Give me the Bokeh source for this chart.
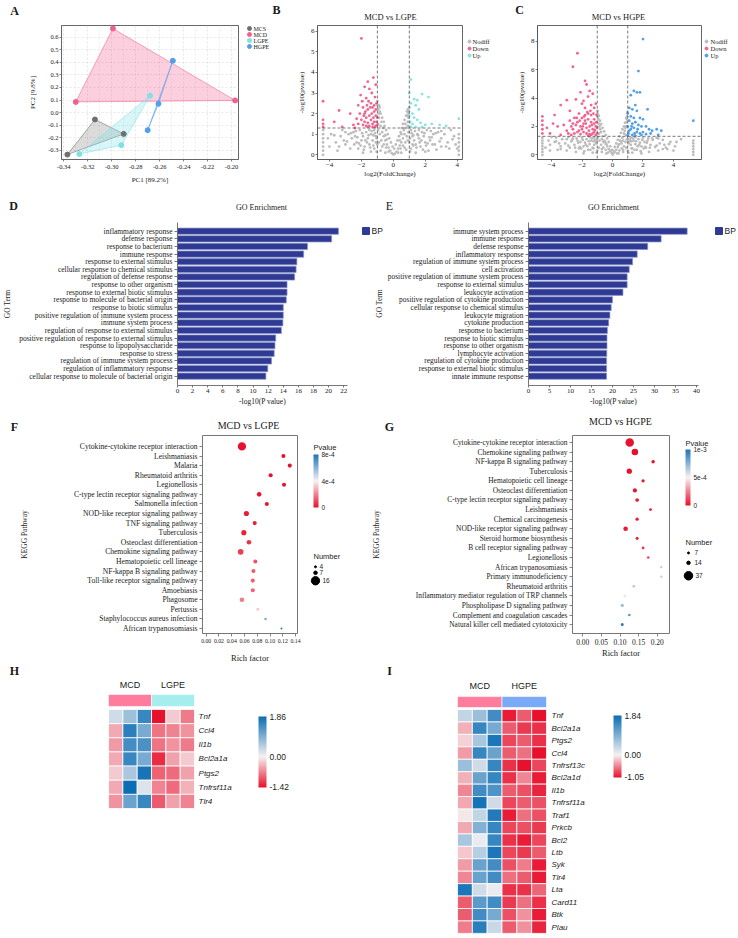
import numpy as np
from bokeh.plotting import figure
from bokeh.models import (ColumnDataSource, ColorBar, LinearColorMapper,
                          FixedTicker, Label, Span, PrintfTickFormatter, CustomJSTickFormatter)
from bokeh.layouts import column, row
from bokeh.embed import file_html
from bokeh.resources import INLINE
from bokeh.core.properties import value

SERIF = "Liberation Serif"
SANS = "Liberation Sans"
TXT = "#1a1a1a"

# ======================= DATA =======================
# --- A: PCA
pca_groups = ["MCS", "MCD", "LGPE", "HGPE"]
mcs_pc1 = [-0.337, -0.314, -0.290]
mcs_pc2 = [-0.335, -0.055, -0.170]
mcd_pc1 = [-0.330, -0.299, -0.197]
mcd_pc2 = [0.085, 0.670, 0.097]
lgpe_pc1 = [-0.327, -0.292, -0.268]
lgpe_pc2 = [-0.330, -0.260, 0.135]
hgpe_pc1 = [-0.270, -0.261, -0.249]
hgpe_pc2 = [-0.140, 0.070, 0.413]
A_xticks = [-0.34, -0.32, -0.30, -0.28, -0.26, -0.24, -0.22, -0.20]
A_xminor = [-0.33, -0.31, -0.29, -0.27, -0.25, -0.23, -0.21]
A_yticks = [-0.3, -0.2, -0.1, 0.0, 0.1, 0.2, 0.3, 0.4, 0.5, 0.6, 0.7]

# --- B: volcano MCD vs LGPE  (log2FC, -log10 p)
volcano_classes = ["Nodiff", "Down", "Up"]
b_nodiff = [(0,0.02),(0.1,0.05),(-0.1,0.08),(0.2,0.15),(-0.2,0.2),(0.3,0.3),(-0.3,0.35),(0.4,0.45),(-0.4,0.5),
            (0.5,0.6),(-0.5,0.7),(0.6,0.8),(-0.6,0.9),(0.7,1.0),(-0.7,1.1),(0.8,1.3),(-0.8,1.4),(0.9,1.6),
            (-0.9,1.8),(0.95,2.0),(-0.95,2.2),(1.0,2.3),(-1.0,2.6),(0.85,1.9),(-0.85,2.1),(0.75,1.5),(-0.75,1.6),
            (0.65,1.2),(-0.65,1.3),(-0.9,2.0),(-0.95,1.5),(0.9,1.4),(0.95,1.8),(-0.98,2.4),(0.98,2.1),
            (-0.5,0.1),(-0.8,0.2),(-1.2,0.3),(-1.5,0.5),(-1.8,0.4),(-2.0,0.7),(-2.3,0.6),(-2.6,0.8),(-3.0,0.5),
            (-3.3,0.9),(-3.6,0.6),(-1.1,0.9),(-1.4,1.0),(-1.7,1.1),(-2.1,1.2),(-2.5,1.1),(-1.3,0.7),(-1.6,0.8),
            (-1.9,0.9),(-2.8,1.0),(-3.2,1.2),(-3.9,1.0),(-1.0,0.5),(-1.2,1.2),(-0.9,0.6),(-2.2,0.3),(-2.7,0.3),
            (-3.5,0.2),(-1.4,0.15),(-1.9,0.1),(-1.1,0.6),(-1.5,1.2),(-2.4,0.9),(-3.1,0.7),(-4.0,0.4),
            (0.5,0.1),(0.8,0.25),(1.1,0.3),(1.4,0.5),(1.7,0.4),(2.0,0.6),(2.3,0.7),(2.6,0.5),(3.0,0.8),
            (3.4,0.6),(3.8,0.9),(1.2,0.9),(1.5,1.0),(1.8,1.1),(2.1,1.2),(2.5,1.0),(1.3,0.7),(1.6,0.8),
            (1.9,0.9),(2.8,1.1),(3.2,1.0),(3.6,1.2),(1.0,0.6),(1.1,1.2),(0.9,0.7),(2.2,0.2),(2.7,0.25),
            (3.5,0.3),(1.4,0.1),(2.0,0.15),(1.2,0.5),(1.6,1.2),(2.4,0.85),(3.0,0.4),(3.9,0.5),
            (-4.4,0.0),(-4.4,0.2),(-4.4,0.4),(-4.4,0.6),(-4.4,0.8),(-4.4,1.0),(-4.4,1.2),
            (4.1,0.0),(4.1,0.2),(4.1,0.4),(4.1,0.6),(4.1,0.8),(4.1,1.0),
            (0.05,0.3),(-0.05,0.4),(0.15,0.5),(-0.15,0.6),(0.25,0.7),(-0.25,0.8),(0.35,0.9),(-0.35,1.0),
            (0.45,1.1),(-0.45,1.2),(0.55,1.3),(-0.55,1.4),(0.6,1.5),(-0.6,1.6),(0.7,1.7),(-0.7,1.8),(0.8,1.9),
            (-0.8,2.0),(0.85,2.1),(-0.85,2.3),(0.9,2.2),(-0.9,2.4),(0.3,0.1),(-0.3,0.15),(0.45,0.3),(-0.45,0.35),
            (0.6,0.45),(-0.6,0.5),(0.75,0.6),(-0.75,0.7),(0.85,0.9),(-0.85,1.0),(0.95,1.1),(-0.95,1.2),
            (0.7,0.35),(-0.7,0.4),(0.5,1.0),(-0.5,0.95),(0.4,0.7),(-0.4,0.75),
            (-1.05,0.15),(-1.25,0.45),(-1.45,0.35),(-1.65,0.6),(-1.85,0.25),(-2.05,0.45),(-2.25,0.85),
            (-2.45,0.5),(-2.65,1.05),(-2.9,0.65),(-3.4,0.4),(-3.7,0.95),(-4.1,0.8),(-1.15,1.05),(-1.35,1.15),
            (-1.55,0.95),(-1.75,0.7),(-1.95,1.05),(-2.15,0.55),(-2.35,1.15),(-1.05,0.8),(-1.25,0.95),(-3.0,1.1),
            (1.05,0.15),(1.25,0.45),(1.45,0.35),(1.65,0.6),(1.85,0.25),(2.05,0.45),(2.25,0.85),(2.45,0.5),
            (2.65,1.05),(2.9,0.65),(3.3,0.4),(3.7,0.75),(4.0,0.3),(1.15,1.05),(1.35,1.15),(1.55,0.95),
            (1.75,0.7),(1.95,1.05),(2.15,0.55),(2.35,1.15),(1.05,0.8),(1.25,0.95),(3.0,1.15)]
b_down = [(-2.0,5.65),(-1.25,3.75),(-1.6,3.55),(-1.1,3.4),(-1.8,3.3),(-1.5,3.2),(-1.35,3.0),(-2.05,2.9),
          (-1.15,2.8),(-1.7,2.75),(-4.4,2.6),(-3.4,2.15),(-2.7,2.0),(-3.7,1.6),(-4.4,1.7),(-4.4,1.5),
          (-4.4,1.35),(-3.2,1.35),(-2.5,1.45),(-2.3,1.75),(-2.2,1.5),(-1.9,2.3),(-1.8,2.0),(-1.7,1.8),
          (-1.6,2.2),(-1.5,1.9),(-1.4,2.5),(-1.3,2.3),(-1.2,2.1),(-1.1,1.9),(-1.05,2.5),(-1.2,1.6),
          (-1.3,1.5),(-1.4,1.7),(-1.5,1.4),(-1.6,1.55),(-1.7,1.4),(-1.8,1.6),(-1.9,1.45),(-2.0,1.7),
          (-1.1,1.4),(-1.05,1.6),(-1.15,1.35),(-1.25,1.8),(-1.35,2.0),(-1.45,2.3),(-1.55,2.6),(-1.65,2.4),
          (-1.75,2.1),(-1.85,1.9),(-2.1,2.0),(-2.2,2.4),(-1.95,2.6),(-1.1,2.2),(-1.3,1.35),(-1.6,1.35),
          (-2.4,1.3),(-1.0,1.45),(-1.0,1.8),(-1.2,2.4)]
b_up = [(1.1,3.65),(1.0,3.0),(1.8,2.95),(2.2,2.8),(1.3,2.7),(1.5,2.65),(1.1,2.5),(1.4,2.4),(1.6,2.2),
        (1.2,2.0),(1.0,2.3),(1.3,1.8),(1.05,1.6),(1.2,1.5),(1.5,1.7),(1.7,1.55),(2.0,1.45),(2.4,1.5),
        (2.9,1.45),(3.3,1.4),(4.1,1.75),(1.1,1.35),(1.4,1.35),(1.8,1.35),(1.0,1.9)]

# --- C: volcano MCD vs HGPE
c_nodiff = [(0,0.02),(0.05,0.1),(-0.05,0.12),(0.15,0.2),(-0.15,0.25),(0.25,0.35),(-0.25,0.4),(0.35,0.55),
            (-0.35,0.6),(0.45,0.75),(-0.45,0.8),(0.55,0.95),(-0.55,1.0),(0.65,1.2),(-0.65,1.3),(0.75,1.5),
            (-0.75,1.6),(0.85,1.9),(-0.85,2.0),(0.92,2.3),(-0.92,2.5),(0.97,2.7),(-0.97,2.9),(0.7,1.0),
            (-0.7,1.1),(0.8,1.7),(-0.8,1.8),(0.9,2.0),(-0.9,2.2),(0.6,0.8),(-0.6,0.9),(0.95,2.5),(-0.95,2.7),
            (0.88,1.4),(-0.88,1.5),
            (-0.4,0.1),(-0.7,0.2),(-1.0,0.3),(-1.3,0.5),(-1.6,0.35),(-1.9,0.6),(-2.2,0.45),(-2.5,0.7),
            (-2.8,0.5),(-3.1,0.8),(-3.4,0.6),(-3.8,0.9),(-4.1,0.7),(-1.1,0.9),(-1.4,1.0),(-1.7,1.1),
            (-2.0,1.2),(-2.3,1.0),(-2.6,1.15),(-2.9,1.25),(-3.3,1.1),(-3.7,1.2),(-4.2,1.0),(-1.2,0.7),
            (-1.5,0.75),(-1.8,0.85),(-2.1,0.9),(-2.4,0.2),(-3.0,0.3),(-3.6,0.35),(-1.2,1.2),(-1.5,1.25),
            (-2.7,0.95),(-1.0,1.1),(-0.9,0.5),(-1.3,0.15),(-1.9,0.1),(-4.4,0.5),(-4.0,1.25),
            (0.4,0.1),(0.7,0.2),(1.0,0.3),(1.3,0.45),(1.6,0.35),(1.9,0.6),(2.2,0.5),(2.5,0.7),(2.8,0.55),
            (3.1,0.8),(3.4,0.7),(3.8,0.9),(4.5,1.1),(1.1,0.9),(1.4,1.0),(1.7,1.1),(2.0,1.2),(2.3,1.0),
            (2.6,1.15),(2.9,1.2),(3.3,1.05),(1.2,0.7),(1.5,0.75),(1.8,0.85),(2.1,0.9),(2.4,0.2),(3.0,0.3),
            (3.6,0.4),(1.2,1.2),(1.5,1.25),(1.0,1.1),(0.9,0.5),(1.3,0.15),(1.9,0.1),(3.5,0.5),(4.1,0.6),
            (-4.6,0.0),(-4.6,0.2),(-4.6,0.4),(-4.6,0.6),(-4.6,0.8),(-4.6,1.0),(-4.6,1.2),
            (5.3,0.0),(5.3,0.2),(5.3,0.4),(5.3,0.6),(5.3,0.8),(5.3,1.0),
            (0.05,0.3),(-0.05,0.35),(0.15,0.55),(-0.15,0.6),(0.25,0.8),(-0.25,0.9),(0.35,1.05),(-0.35,1.15),
            (0.45,1.3),(-0.45,1.4),(0.55,1.55),(-0.55,1.65),(0.65,1.8),(-0.65,1.9),(0.75,2.0),(-0.75,2.15),
            (0.82,2.25),(-0.82,2.4),(0.9,2.6),(-0.9,2.75),(0.3,0.1),(-0.3,0.15),(0.45,0.3),(-0.45,0.35),
            (0.6,0.45),(-0.6,0.5),(0.75,0.6),(-0.75,0.7),(0.85,0.9),(-0.85,1.0),(0.95,1.1),(-0.95,1.25),
            (0.7,0.35),(-0.7,0.4),(0.5,1.0),(-0.5,0.95),(0.4,0.7),(-0.4,0.75),(0.98,3.0),(-0.98,3.1),
            (-1.05,0.15),(-1.25,0.45),(-1.45,0.35),(-1.65,0.6),(-1.85,0.25),(-2.05,0.45),(-2.25,0.85),
            (-2.45,0.5),(-2.65,1.05),(-2.9,0.65),(-3.4,0.4),(-3.7,0.95),(-4.1,0.3),(-1.15,1.05),(-1.35,1.15),
            (-1.55,0.95),(-1.75,0.7),(-1.95,1.05),(-2.15,0.55),(-2.35,1.15),(-1.05,0.8),(-1.25,0.95),
            (-3.0,1.1),(-3.5,0.8),
            (1.05,0.15),(1.25,0.45),(1.45,0.35),(1.65,0.6),(1.85,0.25),(2.05,0.45),(2.25,0.85),(2.45,0.5),
            (2.65,1.05),(2.9,0.65),(3.3,0.4),(3.7,0.75),(4.0,0.3),(1.15,1.05),(1.35,1.15),(1.55,0.95),
            (1.75,0.7),(1.95,1.05),(2.15,0.55),(2.35,1.15),(1.05,0.8),(1.25,0.95),(3.0,1.15),(4.2,0.9)]
c_down = [(-2.3,7.15),(-2.6,6.2),(-1.8,5.2),(-1.7,4.95),(-1.5,4.5),(-2.1,4.4),(-1.3,4.3),(-1.6,4.1),
          (-3.0,3.85),(-2.4,3.9),(-1.9,3.8),(-3.4,3.5),(-2.0,3.6),(-1.1,3.6),(-1.4,3.5),(-2.8,3.1),
          (-1.2,3.3),(-1.8,3.3),(-3.8,2.8),(-4.6,2.7),(-4.6,2.4),(-4.6,2.1),(-4.6,1.8),(-4.6,1.5),
          (-4.1,1.5),(-4.3,1.9),(-3.9,2.2),(-3.6,2.0),(-3.2,2.1),(-3.0,1.7),(-2.7,2.0),(-2.5,2.6),
          (-2.3,2.3),(-2.2,2.9),(-2.1,2.0),(-2.0,2.6),(-1.9,2.2),(-1.8,2.8),(-1.7,1.9),(-1.6,2.5),
          (-1.5,2.0),(-1.4,2.8),(-1.3,1.8),(-1.2,2.5),(-1.1,2.0),(-1.05,2.8),(-1.0,1.5),(-1.1,1.4),
          (-1.3,1.5),(-1.5,1.45),(-1.7,1.5),(-1.9,1.6),(-2.1,1.45),(-2.3,1.6),(-2.5,1.5),(-2.7,1.4),
          (-2.9,1.5),(-3.4,1.4),(-1.2,2.2),(-1.4,2.3),(-1.6,2.9),(-1.8,2.4),(-2.0,1.8),(-2.2,1.7),
          (-2.4,2.1),(-2.6,1.8),(-1.15,1.75),(-1.35,2.1),(-1.55,1.7),(-1.75,2.2),(-1.95,2.0),(-1.25,2.9),
          (-1.45,3.1),(-1.65,3.0),(-1.85,2.7),(-2.15,2.4),(-2.35,2.6),(-1.05,2.3),(-1.0,1.9),(-1.2,1.6),
          (-1.4,1.4),(-1.6,1.35),(-2.8,2.4),(-2.6,2.2)]
c_up = [(2.0,8.15),(1.7,5.9),(1.4,4.5),(1.6,4.4),(1.8,4.4),(1.2,4.2),(1.5,3.5),(1.1,3.3),(1.3,3.2),
        (1.6,3.1),(2.3,3.2),(1.0,2.9),(1.2,2.7),(1.4,2.6),(1.8,2.6),(2.0,2.5),(1.1,2.4),(1.3,2.2),
        (1.5,2.3),(1.7,2.1),(1.9,2.0),(2.2,2.0),(2.4,1.8),(2.6,1.7),(2.9,1.8),(3.2,1.7),(1.0,2.0),
        (1.2,1.8),(1.4,1.9),(1.6,1.6),(1.8,1.5),(2.0,1.6),(2.2,1.45),(2.5,1.5),(3.0,1.4),(1.05,1.5),
        (1.3,1.4),(1.5,1.35),(1.1,1.7),(5.3,2.4),(1.25,2.0),(1.45,1.5),(1.65,1.8),(1.9,1.4),(1.0,1.35)]
FC_CUT = 1.0
P_CUT = 1.301

# --- D: GO enrichment MCD vs LGPE
go_category = "BP"
D_terms = ["inflammatory response", "defense response", "response to bacterium", "immune response",
           "response to external stimulus", "cellular response to chemical stimulus",
           "regulation of defense response", "response to other organism",
           "response to external biotic stimulus", "response to molecule of bacterial origin",
           "response to biotic stimulus", "positive regulation of immune system process",
           "immune system process", "regulation of response to external stimulus",
           "positive regulation of response to external stimulus", "response to lipopolysaccharide",
           "response to stress", "regulation of immune system process",
           "regulation of inflammatory response", "cellular response to molecule of bacterial origin"]
D_vals = [21.3, 20.4, 17.2, 16.7, 15.8, 15.7, 15.5, 14.5, 14.5, 14.4,
          14.0, 14.0, 13.95, 13.75, 13.0, 12.9, 12.8, 12.45, 11.95, 11.7]
D_xticks = [0, 2, 4, 6, 8, 10, 12, 14, 16, 18, 20, 22]

# --- E: GO enrichment MCD vs HGPE
E_terms = ["immune system process", "immune response", "defense response", "inflammatory response",
           "regulation of immune system process", "cell activation",
           "positive regulation of immune system process", "response to external stimulus",
           "leukocyte activation", "positive regulation of cytokine production",
           "cellular response to chemical stimulus", "leukocyte migration", "cytokine production",
           "response to bacterium", "response to biotic stimulus", "response to other organism",
           "lymphocyte activation", "regulation of cytokine production",
           "response to external biotic stimulus", "innate immune response"]
E_vals = [37.8, 31.6, 28.4, 25.9, 24.8, 24.0, 23.5, 23.5, 22.5, 20.0,
          19.7, 19.4, 19.1, 18.8, 18.7, 18.7, 18.65, 18.6, 18.6, 18.6]
E_xticks = [0, 5, 10, 15, 20, 25, 30, 35, 40]

# --- F: KEGG MCD vs LGPE
F_terms = ["Cytokine-cytokine receptor interaction", "Leishmaniasis", "Malaria", "Rheumatoid arthritis",
           "Legionellosis", "C-type lectin receptor signaling pathway", "Salmonella infection",
           "NOD-like receptor signaling pathway", "TNF signaling pathway", "Tuberculosis",
           "Osteoclast differentiation", "Chemokine signaling pathway", "Hematopoietic cell lineage",
           "NF-kappa B signaling pathway", "Toll-like receptor signaling pathway", "Amoebiasis",
           "Phagosome", "Pertussis", "Staphylococcus aureus infection", "African trypanosomiasis"]
F_rich = [0.056, 0.121, 0.131, 0.101, 0.122, 0.083, 0.095, 0.063, 0.076, 0.059,
          0.067, 0.054, 0.077, 0.074, 0.073, 0.073, 0.056, 0.081, 0.093, 0.118]
F_count = [16, 8, 8, 8, 8, 9, 8, 10, 8, 10, 9, 11, 8, 8, 8, 8, 9, 6, 5, 4]
F_pval = [0.0, 0.0, 0.0, 0.0, 0.05e-4, 0.1e-4, 0.1e-4, 0.2e-4, 0.25e-4, 0.3e-4,
          0.6e-4, 0.8e-4, 1.2e-4, 1.3e-4, 1.4e-4, 1.5e-4, 1.9e-4, 3.3e-4, 6.2e-4, 7.8e-4]
F_xticks = [0.0, 0.02, 0.04, 0.06, 0.08, 0.10, 0.12, 0.14]
F_num_legend = [4, 7, 16]
F_p_ticks = [0.0, 4e-4, 8e-4]

# --- G: KEGG MCD vs HGPE
G_terms = ["Cytokine-cytokine receptor interaction", "Chemokine signaling pathway",
           "NF-kappa B signaling pathway", "Tuberculosis", "Hematopoietic cell lineage",
           "Osteoclast differentiation", "C-type lectin receptor signaling pathway", "Leishmaniasis",
           "Chemical carcinogenesis", "NOD-like receptor signaling pathway", "Steroid hormone biosynthesis",
           "B cell receptor signaling pathway", "Legionellosis", "African trypanosomiasis",
           "Primary immunodeficiency", "Rheumatoid arthritis",
           "Inflammatory mediator regulation of TRP channels", "Phospholipase D signaling pathway",
           "Complement and coagulation cascades", "Natural killer cell mediated cytotoxicity"]
G_rich = [0.126, 0.140, 0.189, 0.125, 0.162, 0.140, 0.146, 0.182, 0.146, 0.115,
          0.146, 0.162, 0.176, 0.211, 0.211, 0.137, 0.113, 0.106, 0.125, 0.106]
G_count = [37, 28, 14, 22, 13, 17, 15, 11, 13, 19, 12, 11, 10, 8, 8, 10, 11, 13, 10, 12]
G_pval = [0.0, 0.0, 0.0, 0.0, 0.1e-4, 0.1e-4, 0.2e-4, 0.3e-4, 0.3e-4, 0.2e-4,
          0.5e-4, 0.8e-4, 1.2e-4, 3.6e-4, 3.6e-4, 3.5e-4, 4.6e-4, 7.0e-4, 8.6e-4, 9.5e-4]
G_xticks = [0.0, 0.05, 0.10, 0.15, 0.20]
G_num_legend = [7, 14, 37]
G_p_ticks = [0.0, 5e-4, 1e-3]

# --- H: heatmap MCD vs LGPE (z-scores, 3 MCD + 3 LGPE samples)
H_groups = ["MCD", "LGPE"]
H_genes = ["Tnf", "Ccl4", "Il1b", "Bcl2a1a", "Ptgs2", "Tnfrsf11a", "Tlr4"]
H_z = [[0.30, 0.70, 1.50, -1.42, -0.25, -0.75],
       [-0.45, 1.60, 1.00, -0.80, -0.70, -0.60],
       [-0.55, 1.40, 1.35, -0.80, -0.60, -0.75],
       [-0.45, 1.50, 1.00, -1.25, -0.50, -0.25],
       [-0.25, 0.60, 1.75, -0.90, -0.85, -0.50],
       [-0.45, 1.86, 0.20, -0.70, -0.85, -0.40],
       [-0.60, 1.10, 1.50, -0.95, -0.50, -0.70]]
H_range = [-1.42, 1.86]

# --- I: heatmap MCD vs HGPE
I_groups = ["MCD", "HGPE"]
I_genes = ["Tnf", "Bcl2a1a", "Ptgs2", "Ccl4", "Tnfrsf13c", "Bcl2a1d", "Il1b", "Tnfrsf11a", "Traf1",
           "Prkcb", "Bcl2", "Ltb", "Syk", "Tlr4", "Lta", "Card11", "Btk", "Plau"]
I_z = [[0.40, 0.70, 1.40, -1.00, -0.70, -1.05],
       [-0.30, 1.50, 1.00, -0.70, -0.85, -0.90],
       [-0.15, 0.60, 1.70, -0.80, -0.70, -0.90],
       [-0.40, 1.50, 1.10, -0.70, -0.60, -1.05],
       [0.70, 0.30, 1.50, -0.90, -1.05, -0.80],
       [-0.30, 1.10, 1.50, -0.90, -0.50, -1.00],
       [-0.50, 1.40, 1.30, -0.70, -0.75, -0.95],
       [-0.35, 1.75, 0.30, -0.80, -0.70, -0.75],
       [-0.05, 0.40, 1.65, -1.00, -0.60, -0.75],
       [-0.35, 0.90, 1.50, -0.80, -0.75, -0.85],
       [0.60, 0.10, 1.50, -0.90, -1.00, -0.80],
       [-0.20, 0.50, 1.70, -0.80, -0.85, -0.70],
       [-0.40, 1.10, 1.40, -0.75, -0.55, -1.00],
       [-0.50, 1.10, 1.40, -0.60, -0.70, -1.00],
       [1.70, 0.30, 0.10, -0.90, -0.90, -0.65],
       [-0.70, 1.20, 1.40, -0.85, -0.60, -0.90],
       [-0.70, 1.40, 1.00, -0.75, -0.45, -1.00],
       [-0.55, 1.60, 0.35, -0.70, -0.45, -0.95]]
I_range = [-1.05, 1.84]

# ======================= STYLE HELPERS =======================
C_MCS, C_MCD, C_LGPE, C_HGPE = "#6f6f6f", "#f2608e", "#7fe0e6", "#4f9fec"
C_ND, C_DOWN = "#bdbdbd", "#f4628e"
C_BAR = "#2e3a94"


def hex2rgb(h):
    h = h.lstrip('#')
    return [int(h[i:i + 2], 16) for i in (0, 2, 4)]


def ramp(cols, stops, n=256):
    out = []
    for k in range(n):
        t = k / (n - 1)
        j = 0
        while j < len(stops) - 2 and t > stops[j + 1]:
            j += 1
        a, b = stops[j], stops[j + 1]
        f = min(max((t - a) / (b - a), 0), 1)
        c1, c2 = hex2rgb(cols[j]), hex2rgb(cols[j + 1])
        out.append('#%02x%02x%02x' % tuple(int(round(c1[i] + (c2[i] - c1[i]) * f)) for i in range(3)))
    return out


def mkfig(w, h, xr, yr, l, r, t, b, **kw):
    p = figure(width=w, height=h, x_range=xr, y_range=yr, output_backend="svg", toolbar_location=None,
               min_border_left=l, min_border_right=r, min_border_top=t, min_border_bottom=b,
               title=None, **kw)
    p.xgrid.visible = False
    p.ygrid.visible = False
    p.outline_line_color = None
    p.background_fill_color = "white"
    p.border_fill_color = "white"
    return p


def blank(w, h, top=0, bottom=0):
    """figure without axes; its frame is measured in pixels (x from its left, y up from frame bottom)"""
    p = figure(width=w, height=h, x_range=(0, w), y_range=(0, h - top - bottom), output_backend="svg",
               toolbar_location=None, min_border_left=0, min_border_right=0, min_border_top=top,
               min_border_bottom=bottom, x_axis_location=None, y_axis_location=None, title=None)
    p.xgrid.visible = False
    p.ygrid.visible = False
    p.outline_line_color = None
    return p


def style_axis(ax, fs="7px", font=SERIF, color="#444", tick=3, standoff=2):
    ax.major_label_text_font = font
    ax.major_label_text_font_size = fs
    ax.major_label_text_color = TXT
    ax.axis_line_color = color
    ax.axis_line_width = 0.8
    ax.major_tick_line_color = color
    ax.major_tick_line_width = 0.8
    ax.minor_tick_line_color = None
    ax.major_tick_out = tick
    ax.major_tick_in = 0
    ax.major_label_standoff = standoff
    ax.axis_label_text_font = SERIF
    ax.axis_label_text_font_style = "normal"
    ax.axis_label_text_color = TXT


def axlabel(ax, text, fs, standoff):
    ax.axis_label = text
    ax.axis_label_text_font_size = fs
    ax.axis_label_standoff = standoff


def put(p, ox, fb, text, rx, ry, size, font=SERIF, style="normal", align="center", angle=0.0):
    """text at reference page position (rx, ry) in a blank figure with left edge ox and frame bottom fb"""
    p.add_layout(Label(x=rx - ox, y=fb - ry, text=text, text_font=font, text_font_size=size,
                       text_font_style=style, text_align=align, text_baseline="middle", text_color=TXT,
                       angle=angle))


def keys(p, ox, fb, labels, colors, mx, ys, tx, size, fs, font=SERIF, marker="circle"):
    """legend keys drawn as glyphs in a blank figure (reference page coordinates)"""
    ky = [fb - y for y in ys]
    p.scatter([mx - ox] * len(labels), ky, size=size, marker=marker, fill_color=colors, line_color=colors)
    p.text(x=[tx - ox] * len(labels), y=ky, text=labels, text_font=value(font), text_font_size=fs,
           text_baseline="middle", text_align="left", text_color=TXT)


# ======================= ROW 1 header (letters, titles) =======================
S1 = blank(738, 22)
put(S1, 0, 22, "A", 14, 10, "12px", style="bold")
put(S1, 0, 22, "B", 276, 9, "12px", style="bold")
put(S1, 0, 22, "C", 519, 9, "12px", style="bold")
put(S1, 0, 22, "MCD vs LGPE", 390, 16, "8.5px")
put(S1, 0, 22, "MCD vs HGPE", 618, 16, "8.5px")

# row 1 figures: y 22..191, common frame 25..159
R1T, R1B = 3, 32
R1FB = 159

# ======================= A: PCA =======================
pA = mkfig(244, 169, (-0.3419, -0.1942), (-0.374, 0.694), 61, 6, R1T, R1B)
pA.outline_line_color = "#666"
for ax in (pA.xaxis[0], pA.yaxis[0]):
    style_axis(ax, "6.5px", color="#666", tick=2, standoff=1)
axlabel(pA.xaxis[0], "PC1 [89.2%]", "7px", 4)
axlabel(pA.yaxis[0], "PC2 [9.8%]", "7px", 8)
pA.xaxis.ticker = FixedTicker(ticks=A_xticks, minor_ticks=A_xminor)
pA.yaxis.ticker = FixedTicker(ticks=A_yticks)
pA.xaxis.formatter = PrintfTickFormatter(format="%.2f")
pA.yaxis.formatter = PrintfTickFormatter(format="%.1f")
for gr in (pA.xgrid, pA.ygrid):
    gr.visible = True
    gr.grid_line_color = "#dcdcdc"
    gr.grid_line_dash = "2 2"
    gr.grid_line_width = 0.7
pA.xgrid.minor_grid_line_color = "#e6e6e6"
pA.xgrid.minor_grid_line_dash = "2 2"
pA.xgrid.minor_grid_line_width = 0.7
A_cols = [C_MCS, C_MCD, C_LGPE, C_HGPE]
A_sets = [(mcs_pc1, mcs_pc2, 0.25), (mcd_pc1, mcd_pc2, 0.3), (lgpe_pc1, lgpe_pc2, 0.3),
          (hgpe_pc1, hgpe_pc2, 0.3)]
for (xs, ys, al), col in zip(A_sets, A_cols):
    pA.patch(xs, ys, fill_color=col, fill_alpha=al, line_color=col, line_alpha=0.7, line_width=0.8)
for (xs, ys, al), col in zip(A_sets, A_cols):
    pA.scatter(xs, ys, size=5, fill_color=col, line_color=col)
kA = blank(41, 169, R1T, R1B)
keys(kA, 244, R1FB, pca_groups, A_cols, 249, [28, 34, 40, 46], 253, 4, "6px")


# ======================= B, C: volcano =======================
def volcano(w, l, r, xr, yr, nd, dn, up, up_col, xt, yt):
    p = mkfig(w, 169, xr, yr, l, r, R1T, R1B)
    p.outline_line_color = "#666"
    for ax in (p.xaxis[0], p.yaxis[0]):
        style_axis(ax, "7px", color="#555", tick=2, standoff=1)
    axlabel(p.xaxis[0], "log2(FoldChange)", "7px", 0)
    axlabel(p.yaxis[0], "-log10(pvalue)", "7px", 2)
    p.xaxis.ticker = FixedTicker(ticks=xt)
    p.yaxis.ticker = FixedTicker(ticks=yt)
    for pts, col in ((nd, C_ND), (dn, C_DOWN), (up, up_col)):
        p.scatter([q[0] for q in pts], [q[1] for q in pts], size=2.8, fill_color=col, line_color=None)
    for loc in (-FC_CUT, FC_CUT):
        p.add_layout(Span(location=loc, dimension="height", line_color="#555", line_dash="3 2",
                          line_width=0.8))
    p.add_layout(Span(location=P_CUT, dimension="width", line_color="#555", line_dash="3 2", line_width=0.8))
    return p


pB = volcano(180, 32, 3, (-4.75, 4.33), (-0.228, 6.277), b_nodiff, b_down, b_up, "#86e3e6",
             [-4, -2, 0, 2, 4], [0, 1, 2, 3, 4, 5, 6])
kB = blank(32, 169, R1T, R1B)
keys(kB, 465, R1FB, volcano_classes, [C_ND, C_DOWN, "#86e3e6"], 469, [41, 48, 55], 472, 3, "6.5px")
pC = volcano(206, 40, 2, (-4.92, 5.84), (-0.331, 9.106), c_nodiff, c_down, c_up, "#4f9fec",
             [-4, -2, 0, 2, 4], [0, 2, 4, 6, 8])
kC = blank(35, 169, R1T, R1B)
keys(kC, 703, R1FB, volcano_classes, [C_ND, C_DOWN, "#4f9fec"], 706, [41, 48, 55], 710, 3, "6.5px")

# ======================= ROW 2 header =======================
S2 = blank(738, 23)
put(S2, 0, 214, "D", 13, 205, "12px", style="bold")
put(S2, 0, 214, "E", 389, 205, "12px")
put(S2, 0, 214, "GO Enrichment", 261, 207, "8px")
put(S2, 0, 214, "GO Enrichment", 613, 207, "8px")

# row 2 figures: y 214..415, frame 222..385
R2T, R2B = 8, 30
R2FB = 385


def gobar(w, l, r, xr, terms, vals, xt, yfs, ylab_s):
    n = len(terms)
    ys = [n - 1 - i for i in range(n)]
    p = mkfig(w, 201, xr, (-1.22, 20.14), l, r, R2T, R2B)
    for ax in (p.xaxis[0], p.yaxis[0]):
        style_axis(ax, "7px", color="#555", tick=3, standoff=2)
    p.yaxis.major_label_text_font_size = yfs
    p.xaxis.major_tick_out = 2
    p.xaxis.major_label_standoff = 1
    axlabel(p.xaxis[0], "-log10(P value)", "7.5px", 1)
    if ylab_s is not None:
        axlabel(p.yaxis[0], "GO Term", "7.5px", ylab_s)
    p.xaxis.ticker = FixedTicker(ticks=xt)
    p.yaxis.ticker = FixedTicker(ticks=ys)
    p.yaxis.major_label_overrides = {y: t for y, t in zip(ys, terms)}
    src = ColumnDataSource(dict(y=ys, v=vals))
    p.hbar(y="y", right="v", left=0, height=0.82, source=src, fill_color=C_BAR,
           line_color="#8d94c8", line_width=0.7)
    return p


pD = gobar(350, 176, 3, (0, 22.5), D_terms, D_vals, D_xticks, "7.5px", 4)
kD = blank(33, 201, R2T, R2B)
keys(kD, 350, R2FB, [go_category], [C_BAR], 365.5, [230.5], 371, 7, "8.5px", font=SANS, marker="square")
# y-axis title of panel E sits just left of E's tick labels
put(kD, 350, R2FB, "GO Term", 379, 303, "7.5px", angle=np.pi / 2)
pE = gobar(317, 145, 2, (0, 40.5), E_terms, E_vals, E_xticks, "7.4px", None)
kE = blank(38, 201, R2T, R2B)
keys(kE, 700, R2FB, [go_category], [C_BAR], 718.5, [230.5], 724, 7, "8.5px", font=SANS, marker="square")

# ======================= ROW 3 header =======================
S3 = blank(738, 17)
put(S3, 0, 432, "F", 14, 426, "12px", style="bold")
put(S3, 0, 432, "G", 389, 426, "12px", style="bold")
put(S3, 0, 432, "MCD vs LGPE", 248, 425, "10px")
put(S3, 0, 432, "MCD vs HGPE", 620, 421, "10px")

# row 3 figures: y 432..665, frame 435..634
R3T, R3B = 3, 31
R3FB = 634


def kegg(w, l, r, xr, yr, terms, rich, count, pval, xt, xfs, yfs, mapper, dsize, xlab_s, ylab_s):
    n = len(terms)
    ys = [n - 1 - i for i in range(n)]
    p = mkfig(w, 233, xr, yr, l, r, R3T, R3B)
    p.outline_line_color = "#777"
    for ax in (p.xaxis[0], p.yaxis[0]):
        style_axis(ax, yfs, color="#666", tick=3, standoff=2)
    p.xaxis.major_label_text_font_size = xfs
    p.xaxis.axis_line_color = None
    p.yaxis.axis_line_color = None
    axlabel(p.xaxis[0], "Rich factor", "8.5px", xlab_s)
    axlabel(p.yaxis[0], "KEGG Pathway", "7.5px", ylab_s)
    p.xaxis.ticker = FixedTicker(ticks=xt)
    p.xaxis.formatter = PrintfTickFormatter(format="%.2f")
    p.yaxis.ticker = FixedTicker(ticks=ys)
    p.yaxis.major_label_overrides = {y: tt for y, tt in zip(ys, terms)}
    src = ColumnDataSource(dict(x=rich, y=ys, p=pval, s=[dsize(c) for c in count]))
    p.scatter("x", "y", size="s", source=src, fill_color={"field": "p", "transform": mapper}, line_color=None)
    return p


def kegg_keys(ox, mapper, p_ticks, p_code, cb_x, cb_bottom, cb_h, pv_y, num_y, nums, dsize, cx, cys, tx):
    k = blank(63, 233, R3T, R3B)
    cb = ColorBar(color_mapper=mapper, location=(cb_x - ox, R3FB - cb_bottom), width=5, height=cb_h,
                  padding=0, margin=0, orientation="vertical", ticker=FixedTicker(ticks=p_ticks),
                  formatter=CustomJSTickFormatter(code=p_code), major_label_text_font=SANS,
                  major_label_text_font_size="6.5px", major_label_text_color=TXT, label_standoff=3,
                  major_tick_line_color=None, bar_line_color=None, border_line_color=None,
                  background_fill_alpha=0)
    k.add_layout(cb)
    put(k, ox, R3FB, "Pvalue", cb_x, pv_y, "7.5px", font=SANS, align="left")
    put(k, ox, R3FB, "Number", cb_x, num_y, "7.5px", font=SANS, align="left")
    ky = [R3FB - y for y in cys]
    k.scatter([cx - ox] * len(nums), ky, size=[dsize(v) for v in nums], fill_color="black", line_color="black")
    k.text(x=[t - ox for t in tx], y=ky, text=[str(v) for v in nums], text_font=value(SANS),
           text_font_size="6.5px", text_baseline="middle", text_align="left", text_color=TXT)
    return k


kegg_pal = ramp(["#e8112d", "#f8f2f3", "#1b74b9"], [0, 0.5, 1])
mapF = LinearColorMapper(palette=kegg_pal, low=0, high=8e-4 + 1e-10)
mapG = LinearColorMapper(palette=kegg_pal, low=0, high=1e-3 + 1e-10)


def sizeF(c):
    return 2.0 + (c - 4) * (8.3 - 2.0) / (16 - 4)


def sizeG(c):
    return 2.0 + (c - 7) * (8.5 - 2.0) / (37 - 7)


codeF = "if (tick < 1e-9) { return '0'; } return Math.round(tick * 1e4) + 'e-4';"
codeG = ("if (tick < 1e-9) { return '0'; } if (Math.abs(tick - 1e-3) < 1e-9) { return '1e-3'; } "
         "return Math.round(tick * 1e4) + 'e-4';")

pF = kegg(305, 202, 8, (-0.0058, 0.1431), (-0.52, 20.14), F_terms, F_rich, F_count, F_pval,
          F_xticks, "5.8px", "7.6px", mapF, sizeF, 7, 42)
kF = kegg_keys(305, mapF, F_p_ticks, codeF, 313, 508, 53, 447, 557, F_num_legend, sizeF, 315,
               [567, 573, 581], [319, 319, 322])
pG = kegg(307, 204, 6, (-0.0277, 0.2330), (-0.93, 19.73), G_terms, G_rich, G_count, G_pval,
          G_xticks, "7.5px", "7.4px", mapG, sizeG, 0, 32)
kG = kegg_keys(675, mapG, G_p_ticks, codeG, 685, 506, 56, 443, 543, G_num_legend, sizeG, 688,
               [553, 563, 576], [694, 694, 695])


# ======================= H, I: heatmaps =======================
def heatmap(w, ox, xr, yr, groups, genes, z, zr, grp_cols, bar_y, bar_h, grp_y, gene_x, cb_x, cb_bottom,
            cb_h, letter, lx, ly):
    H = 273
    oy = 665
    p = figure(width=w, height=H, x_range=xr, y_range=yr, output_backend="svg", toolbar_location=None,
               min_border=0, x_axis_location=None, y_axis_location=None, title=None)
    p.xgrid.visible = False
    p.ygrid.visible = False
    p.outline_line_color = None
    lo, hi = zr
    z0 = -lo / (hi - lo)
    pal = ramp(["#e8112d", "#f5f2f2", "#0b6db4"], [0, z0, 1])
    mapper = LinearColorMapper(palette=pal, low=lo - 1e-6, high=hi + 1e-6)
    n = len(genes)
    xs, ys, vs = [], [], []
    for i, g in enumerate(genes):
        for j, v in enumerate(z[i]):
            xs.append(j)
            ys.append(n - 1 - i)
            vs.append(v)
    src = ColumnDataSource(dict(x=xs, y=ys, v=vs))
    p.rect("x", "y", width=1, height=1, source=src, fill_color={"field": "v", "transform": mapper},
           line_color="white", line_width=0.8)
    ncol = len(z[0])
    per = ncol // len(groups)
    gx = [k * per + (per - 1) / 2 for k in range(len(groups))]
    p.rect(x=gx, y=[bar_y] * len(groups), width=per, height=bar_h, fill_color=grp_cols, line_color="white",
           line_width=0.6)
    p.text(x=gx, y=[grp_y] * len(groups), text=groups, text_font=value(SANS), text_font_size="9px",
           text_align="center", text_baseline="middle", text_color=TXT)
    p.text(x=[gene_x] * n, y=[n - 1 - i for i in range(n)], text=genes, text_font=value(SANS),
           text_font_style="italic", text_font_size="8px", text_align="left", text_baseline="middle",
           text_color=TXT)
    cb = ColorBar(color_mapper=mapper, location=(cb_x - ox, oy + H - cb_bottom), width=8, height=cb_h,
                  padding=0, margin=0, orientation="vertical", ticker=FixedTicker(ticks=[lo, 0.0, hi]),
                  formatter=PrintfTickFormatter(format="%.2f"), major_label_text_font=SANS,
                  major_label_text_font_size="8.5px", major_label_text_color=TXT, label_standoff=3,
                  major_tick_line_color=None, bar_line_color=None, border_line_color=None,
                  background_fill_alpha=0)
    p.add_layout(cb)
    p.add_layout(Label(x=lx - ox, y=oy + H - ly, x_units="screen", y_units="screen", text=letter,
                       text_font=SERIF, text_font_size="12px", text_font_style="bold",
                       text_align="center", text_baseline="middle", text_color=TXT))
    return p


pH = heatmap(370, 0, (-8.04, 17.78), (-9.69, 9.61), H_groups, H_genes, H_z, H_range,
             ["#ff7c9d", "#a6eeee"], 7.14, 0.85, 8.2, 5.78, 258, 787, 71, "H", 14, 670)
pI = heatmap(368, 370, (-6.37, 18.45), (-0.91, 21.04), I_groups, I_genes, I_z, I_range,
             ["#ff7c9d", "#78aaf8"], 18.10, 0.88, 19.43, 5.84, 613, 777, 62, "I", 389, 670)

layout = column(S1, row(pA, kA, pB, kB, pC, kC), S2, row(pD, kD, pE, kE), S3, row(pF, kF, pG, kG),
                row(pH, pI))
open("out.html", "w").write(file_html(layout, INLINE))
